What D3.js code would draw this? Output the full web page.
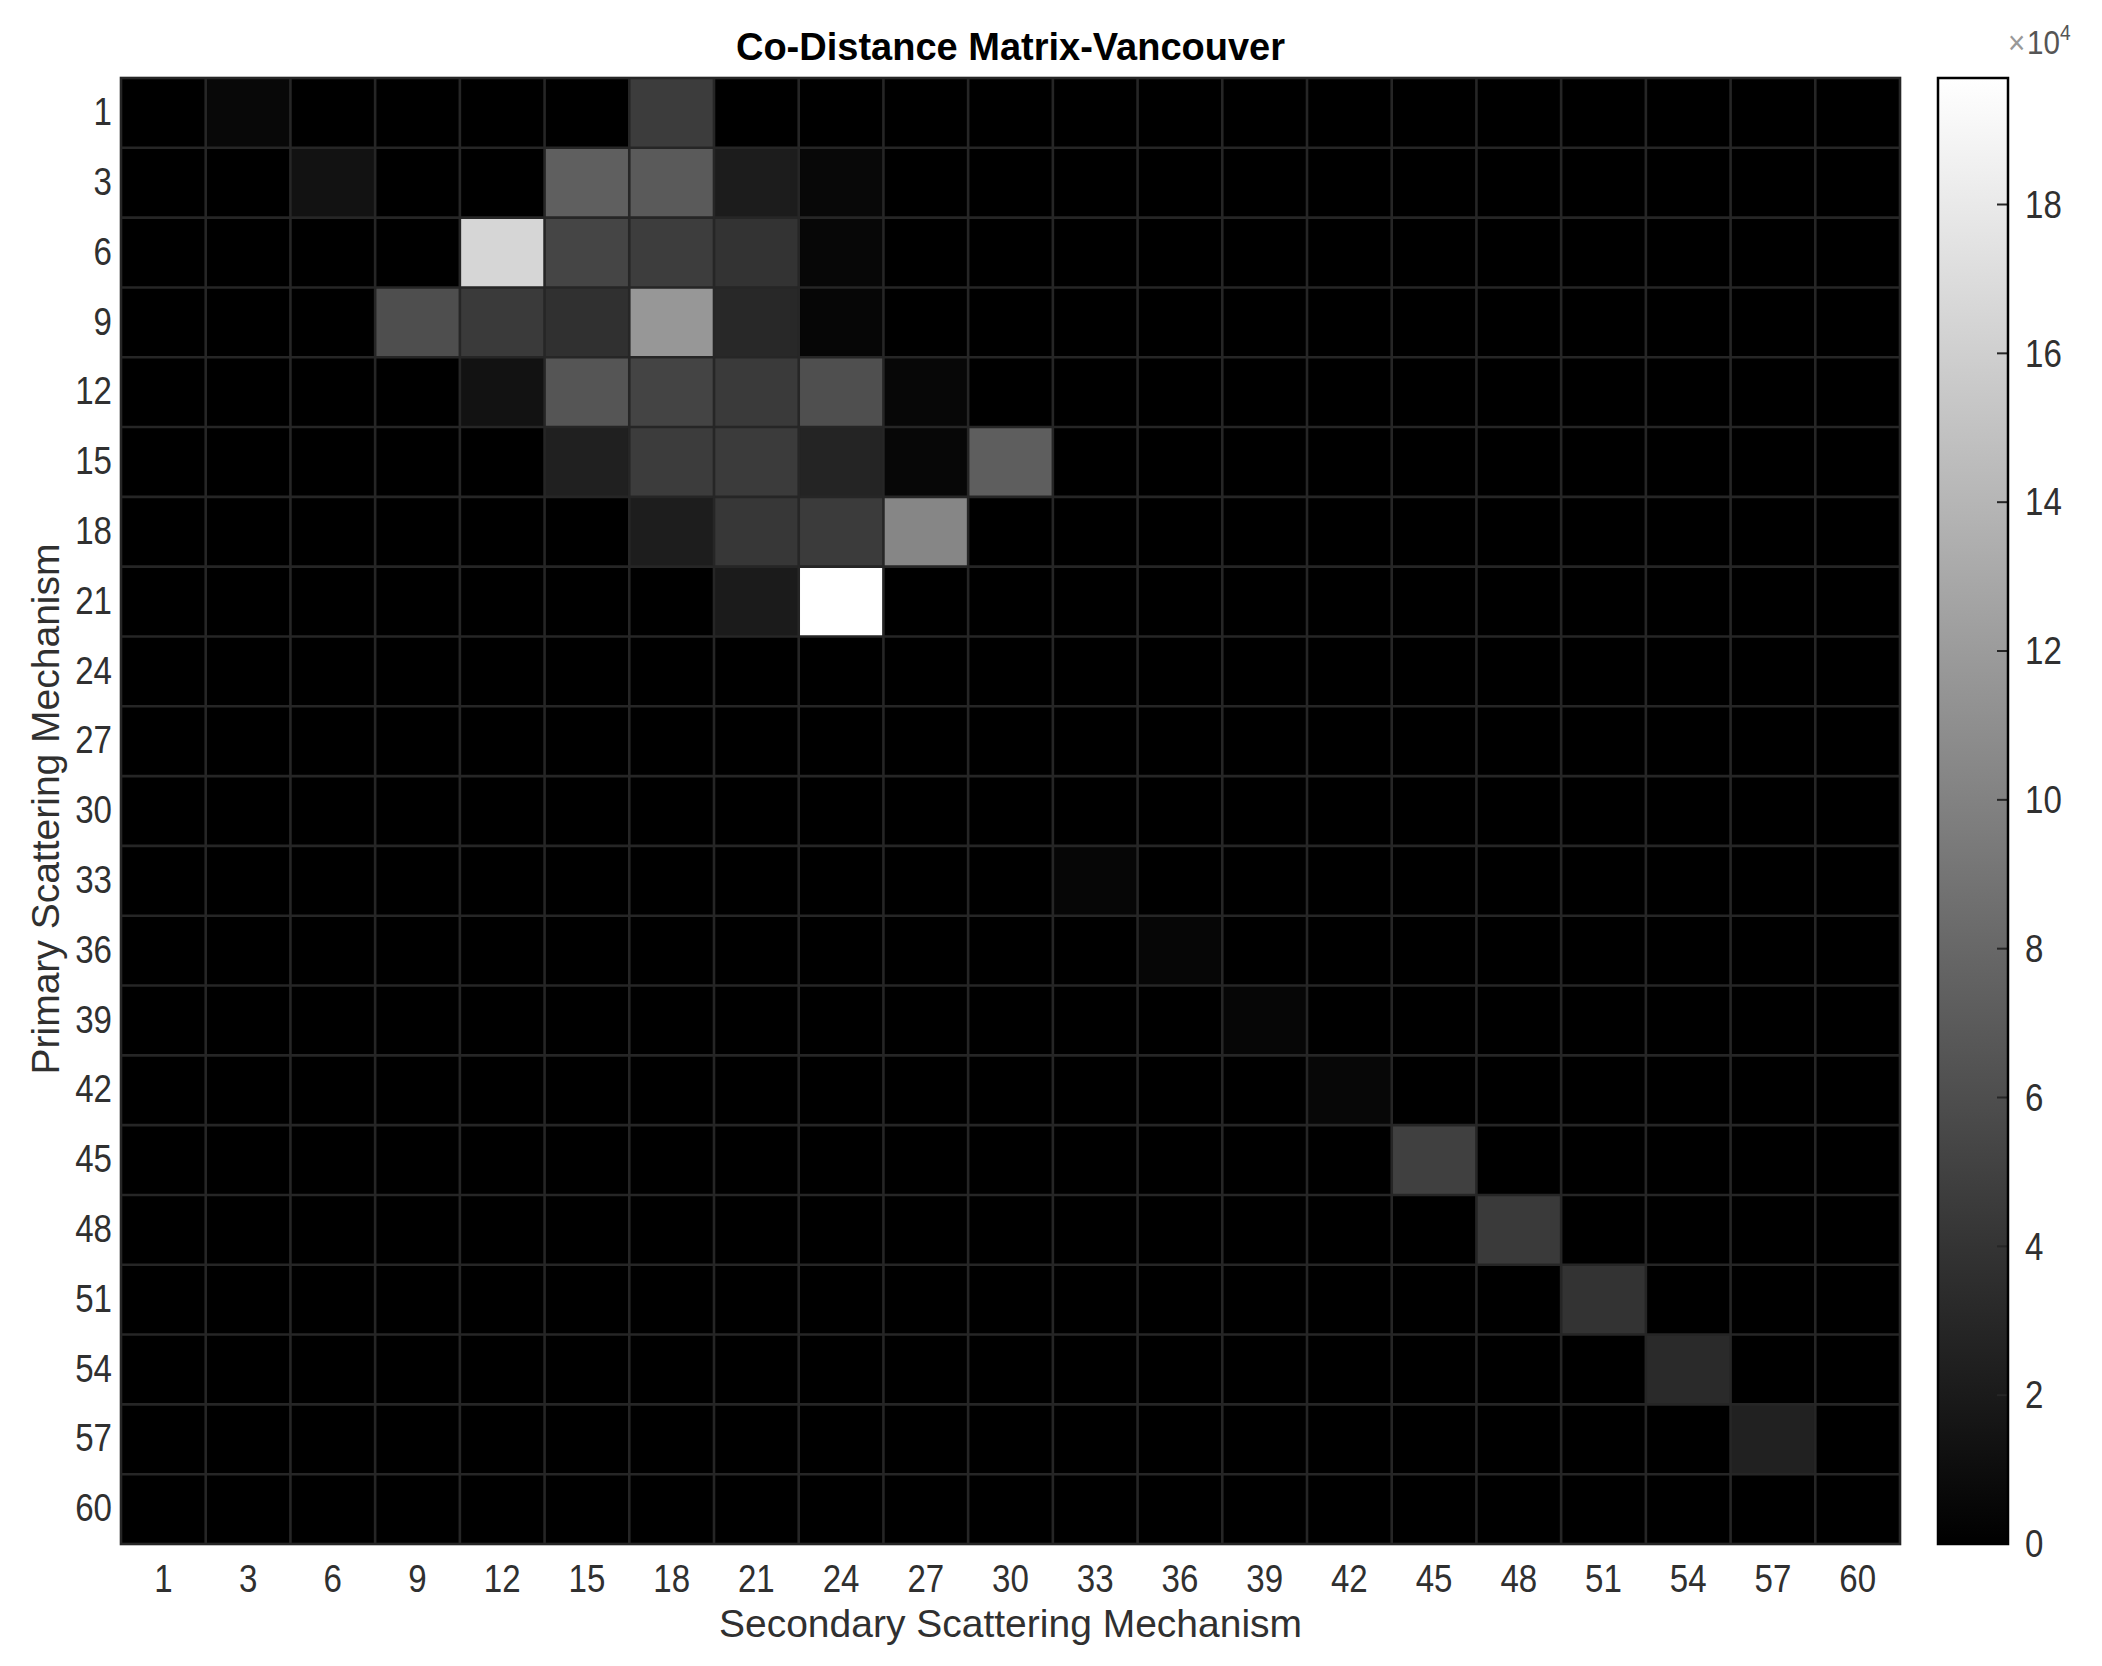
<!DOCTYPE html>
<html>
<head>
<meta charset="utf-8">
<script src="https://cdn.jsdelivr.net/npm/d3@7/dist/d3.min.js"></script>
<style>
  html, body { margin: 0; padding: 0; background: #fff; }
  svg { display: block; font-family: "Liberation Sans", Arial, Helvetica, sans-serif; }
</style>
</head>
<body>
<svg id="chart" width="2102" height="1666"></svg>
<script>
// ---------------- DATA ----------------
const categories = ["1","3","6","9","12","15","18","21","24","27","30","33","36","39","42","45","48","51","54","57","60"];
const title = "Co-Distance Matrix-Vancouver";
const xLabel = "Secondary Scattering Mechanism";
const yLabel = "Primary Scattering Mechanism";
const colorMax = 197000;
const colorTicks = [0, 20000, 40000, 60000, 80000, 100000, 120000, 140000, 160000, 180000];
const colorTickLabels = ["0","2","4","6","8","10","12","14","16","18"];
// rows = primary (top to bottom), columns = secondary (left to right)
const values = [
  [0, 6200, 0, 0, 0, 0, 46400, 0, 0, 0, 0, 0, 0, 0, 0, 0, 0, 0, 0, 0, 0],
  [0, 0, 13900, 0, 0, 73400, 69500, 21600, 6200, 0, 0, 0, 0, 0, 0, 0, 0, 0, 0, 0, 0],
  [0, 0, 0, 0, 165300, 53300, 47100, 39400, 5400, 0, 0, 0, 0, 0, 0, 0, 0, 0, 0, 0, 0],
  [0, 0, 0, 60300, 44800, 37100, 116600, 30900, 4600, 0, 0, 0, 0, 0, 0, 0, 0, 0, 0, 0, 0],
  [0, 0, 0, 0, 13900, 65700, 52500, 44800, 61000, 5400, 0, 0, 0, 0, 0, 0, 0, 0, 0, 0, 0],
  [0, 0, 0, 0, 0, 24700, 46400, 45600, 27800, 5400, 72600, 0, 0, 0, 0, 0, 0, 0, 0, 0, 0],
  [0, 0, 0, 0, 0, 0, 22400, 42500, 45600, 103500, 0, 0, 0, 0, 0, 0, 0, 0, 0, 0, 0],
  [0, 0, 0, 0, 0, 0, 0, 20900, 197000, 0, 0, 0, 0, 0, 0, 0, 0, 0, 0, 0, 0],
  [0, 0, 0, 0, 0, 0, 0, 0, 0, 0, 0, 0, 0, 0, 0, 0, 0, 0, 0, 0, 0],
  [0, 0, 0, 0, 0, 0, 0, 0, 0, 0, 0, 0, 0, 0, 0, 0, 0, 0, 0, 0, 0],
  [0, 0, 0, 0, 0, 0, 0, 0, 0, 0, 0, 0, 0, 0, 0, 0, 0, 0, 0, 0, 0],
  [0, 0, 0, 0, 0, 0, 0, 0, 0, 0, 0, 4600, 0, 0, 0, 0, 0, 0, 0, 0, 0],
  [0, 0, 0, 0, 0, 0, 0, 0, 0, 0, 0, 0, 4600, 0, 0, 0, 0, 0, 0, 0, 0],
  [0, 0, 0, 0, 0, 0, 0, 0, 0, 0, 0, 0, 0, 4600, 0, 0, 0, 0, 0, 0, 0],
  [0, 0, 0, 0, 0, 0, 0, 0, 0, 0, 0, 0, 0, 0, 5400, 0, 0, 0, 0, 0, 0],
  [0, 0, 0, 0, 0, 0, 0, 0, 0, 0, 0, 0, 0, 0, 0, 49400, 0, 0, 0, 0, 0],
  [0, 0, 0, 0, 0, 0, 0, 0, 0, 0, 0, 0, 0, 0, 0, 0, 44800, 0, 0, 0, 0],
  [0, 0, 0, 0, 0, 0, 0, 0, 0, 0, 0, 0, 0, 0, 0, 0, 0, 39400, 0, 0, 0],
  [0, 0, 0, 0, 0, 0, 0, 0, 0, 0, 0, 0, 0, 0, 0, 0, 0, 0, 32400, 0, 0],
  [0, 0, 0, 0, 0, 0, 0, 0, 0, 0, 0, 0, 0, 0, 0, 0, 0, 0, 0, 25500, 0],
  [0, 0, 0, 0, 0, 0, 0, 0, 0, 0, 0, 0, 0, 0, 0, 0, 0, 0, 0, 0, 0]
];

// ---------------- LAYOUT ----------------
const plot = { left: 121, right: 1900, top: 78, bottom: 1544 };
const cbar = { left: 1938, right: 2008, top: 78, bottom: 1544 };
const textColor = "#303030";
const tickFont = 38, tickSX = 0.87;

const svg = d3.select("#chart");

const x = d3.scaleBand().domain(categories).range([plot.left, plot.right]).paddingInner(0).paddingOuter(0);
const y = d3.scaleBand().domain(categories).range([plot.top, plot.bottom]).paddingInner(0).paddingOuter(0);
const color = d3.scaleLinear().domain([0, colorMax]).range(["#000000", "#ffffff"]).clamp(true);

const cells = [];
values.forEach((row, i) => row.forEach((v, j) => cells.push({ r: categories[i], c: categories[j], v })));

// cells
svg.append("g").selectAll("rect").data(cells).join("rect")
  .attr("x", d => x(d.c))
  .attr("y", d => y(d.r))
  .attr("width", x.bandwidth() + 0.5)
  .attr("height", y.bandwidth() + 0.5)
  .attr("fill", d => color(d.v));

// grid lines
const grid = svg.append("g").attr("stroke", "#262626").attr("stroke-width", 2.6);
categories.slice(1).forEach(c => {
  grid.append("line").attr("x1", x(c)).attr("x2", x(c)).attr("y1", plot.top).attr("y2", plot.bottom);
  grid.append("line").attr("y1", y(c)).attr("y2", y(c)).attr("x1", plot.left).attr("x2", plot.right);
});
svg.append("rect")
  .attr("x", plot.left).attr("y", plot.top)
  .attr("width", plot.right - plot.left).attr("height", plot.bottom - plot.top)
  .attr("fill", "none").attr("stroke", "#262626").attr("stroke-width", 2.6);

// x axis
const gx = svg.append("g").attr("transform", `translate(0,${plot.bottom})`)
  .call(d3.axisBottom(x).tickSize(0).tickPadding(21));
gx.select(".domain").remove();
gx.selectAll("text")
  .attr("fill", textColor).style("font-size", tickFont + "px")
  .style("font-family", "'Liberation Sans', Arial, sans-serif")
  .attr("transform", `scale(${tickSX},1)`);

// y axis
const gy = svg.append("g").attr("transform", `translate(${plot.left},0)`)
  .call(d3.axisLeft(y).tickSize(0).tickPadding(0));
gy.select(".domain").remove();
gy.selectAll("text")
  .attr("fill", textColor).style("font-size", tickFont + "px")
  .style("font-family", "'Liberation Sans', Arial, sans-serif")
  .attr("x", 0)
  .attr("transform", `translate(-9,0) scale(${tickSX},1)`);

// title
svg.append("text")
  .attr("x", (plot.left + plot.right) / 2).attr("y", 60)
  .attr("text-anchor", "middle")
  .attr("font-weight", "bold").attr("font-size", 38)
  .attr("fill", "#000").text(title);

// axis labels
svg.append("text")
  .attr("x", (plot.left + plot.right) / 2).attr("y", 1637)
  .attr("text-anchor", "middle").attr("font-size", 39)
  .attr("fill", textColor).text(xLabel);
svg.append("text")
  .attr("transform", `translate(59,${(plot.top + plot.bottom) / 2 - 2}) rotate(-90)`)
  .attr("text-anchor", "middle").attr("font-size", 39)
  .attr("fill", textColor).text(yLabel);

// colorbar
const defs = svg.append("defs");
const grad = defs.append("linearGradient").attr("id", "cbgrad")
  .attr("x1", 0).attr("y1", 1).attr("x2", 0).attr("y2", 0);
d3.range(0, 1.0001, 0.1).forEach(t => {
  grad.append("stop").attr("offset", t).attr("stop-color", color(t * colorMax));
});
const cScale = d3.scaleLinear().domain([0, colorMax]).range([cbar.bottom, cbar.top]);
svg.append("rect")
  .attr("x", cbar.left).attr("y", cbar.top)
  .attr("width", cbar.right - cbar.left).attr("height", cbar.bottom - cbar.top)
  .attr("fill", "url(#cbgrad)");
// ticks inside, at right edge
const gc = svg.append("g");
gc.selectAll("line").data(colorTicks).join("line")
  .attr("x1", cbar.right - 11).attr("x2", cbar.right)
  .attr("y1", d => cScale(d)).attr("y2", d => cScale(d))
  .attr("stroke", "#262626").attr("stroke-width", 2);
gc.selectAll("text").data(colorTicks).join("text")
  .attr("transform", d => `translate(2025,${cScale(d)}) scale(${tickSX},1)`)
  .attr("dy", "0.35em")
  .attr("font-size", tickFont)
  .attr("fill", textColor)
  .text((d, i) => colorTickLabels[i]);
svg.append("rect")
  .attr("x", cbar.left).attr("y", cbar.top)
  .attr("width", cbar.right - cbar.left).attr("height", cbar.bottom - cbar.top)
  .attr("fill", "none").attr("stroke", "#000").attr("stroke-width", 2.5);

// exponent label
const expT = svg.append("text")
  .attr("transform", `translate(2008,54) scale(${tickSX},1)`)
  .attr("font-size", 34).attr("fill", "#555");
expT.append("tspan").attr("fill", "#999").text("\u00d7");
expT.append("tspan").attr("dx", 2).text("10");
expT.append("tspan").attr("dy", -14).attr("font-size", 22).text("4");
</script>
</body>
</html>
